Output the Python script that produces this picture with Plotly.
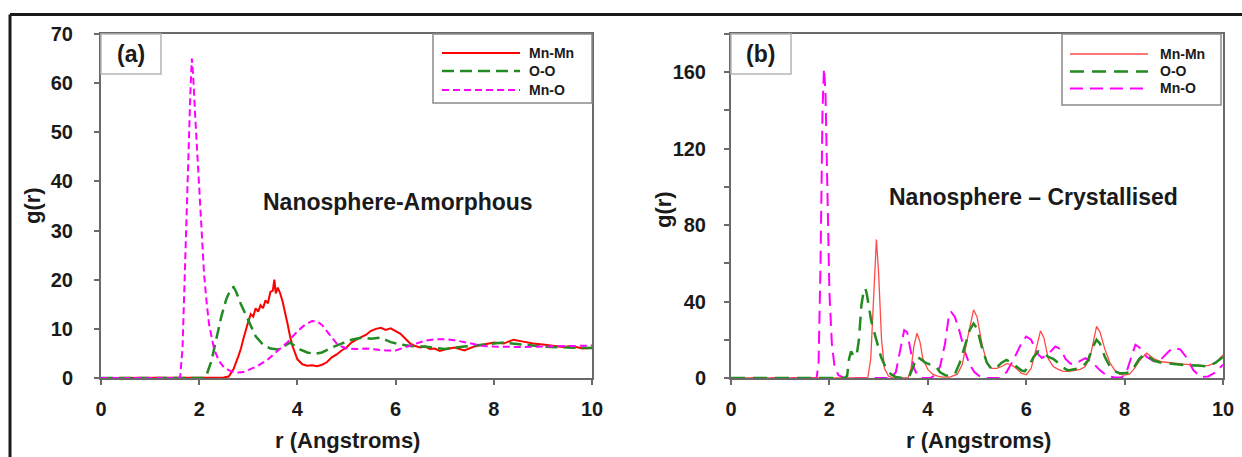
import plotly.graph_objects as go

# ---------------- Panel (a): Nanosphere-Amorphous ----------------
a_mnmn_r = [0, 2.4, 2.5, 2.6, 2.7, 2.8, 2.85, 2.9, 2.95, 3.0, 3.05, 3.1, 3.15, 3.2, 3.25, 3.3, 3.35,
            3.4, 3.45, 3.5, 3.53, 3.56, 3.6, 3.65, 3.7, 3.75, 3.8, 3.85, 3.9, 4.0, 4.1, 4.2, 4.3,
            4.4, 4.5, 4.6, 4.7, 4.8, 4.9, 5.0, 5.1, 5.2, 5.3, 5.4, 5.5, 5.6, 5.7, 5.8, 5.9, 6.0,
            6.1, 6.2, 6.3, 6.4, 6.5, 6.6, 6.7, 6.8, 6.9, 7.0, 7.2, 7.4, 7.6, 7.8, 8.0, 8.2, 8.4,
            8.6, 8.8, 9.0, 9.2, 9.4, 9.6, 9.8, 10.0]
a_mnmn_g = [0, 0, 0.1, 0.3, 1.8, 4.5, 6.0, 8.0, 10.0, 11.5, 13.0, 12.5, 14.2, 13.5, 14.8, 14.2, 15.8,
            15.2, 17.5, 17.8, 20.0, 17.2, 18.4, 17.2, 15.5, 13.5, 11.0, 8.5, 6.5, 3.8, 2.8, 2.5, 2.6,
            2.4, 2.7, 3.2, 4.2, 4.8, 5.6, 6.2, 7.2, 7.8, 8.3, 8.8, 9.6, 10.0, 10.2, 9.8, 10.1, 9.6,
            9.0, 8.0, 7.0, 6.5, 6.2, 6.4, 5.9, 6.0, 5.5, 5.8, 6.2, 5.6, 6.4, 6.8, 7.2, 7.0, 7.8,
            7.4, 7.0, 6.8, 6.5, 6.3, 6.5, 6.0, 6.1]

a_oo_r = [0, 2.05, 2.15, 2.25, 2.35, 2.45, 2.55, 2.65, 2.7, 2.75, 2.85, 2.95, 3.05, 3.15, 3.3, 3.45,
          3.6, 3.75, 3.85, 3.95, 4.05, 4.2, 4.35, 4.5, 4.7, 4.9, 5.1, 5.3, 5.5, 5.7, 5.9, 6.1,
          6.3, 6.6, 7.0, 7.4, 7.8, 8.2, 8.6, 9.0, 9.5, 10.0]
a_oo_g = [0, 0, 0.6, 3.5, 8.0, 12.5, 16.0, 18.3, 18.5, 17.6, 15.0, 12.8, 10.5, 8.5, 6.8, 6.0,
          5.8, 6.6, 7.2, 6.5, 5.8, 5.2, 4.9, 5.2, 6.2, 7.0, 7.8, 8.2, 8.0, 8.2, 7.3, 6.8,
          6.5, 6.4, 5.9, 6.4, 6.8, 7.2, 6.8, 6.4, 6.2, 6.1]

a_mno_r = [0, 1.61, 1.66, 1.70, 1.74, 1.78, 1.82, 1.85, 1.88, 1.92, 1.96, 2.0, 2.05, 2.1, 2.15,
           2.2, 2.3, 2.4, 2.5, 2.6, 2.7, 2.8, 2.9, 3.0, 3.2, 3.4, 3.6, 3.8, 4.0, 4.15, 4.3, 4.4,
           4.5, 4.6, 4.7, 4.8, 4.9, 5.0, 5.2, 5.4, 5.6, 5.8, 6.0, 6.2, 6.4, 6.6, 6.8, 7.0, 7.2,
           7.4, 7.6, 7.8, 8.0, 8.5, 9.0, 9.5, 10.0]
a_mno_g = [0, 0, 6, 20, 34, 45, 58, 65, 61, 53, 46, 38, 28, 21, 15.5,
           11, 6, 3.5, 2.2, 1.6, 1.2, 1.1, 1.2, 1.6, 2.5, 3.8, 5.5, 7.3, 9.5, 10.8, 11.6, 11.5,
           10.8, 9.6, 8.2, 7.0, 6.4, 6.0, 5.9, 6.0, 5.8, 5.6, 5.6, 6.3, 7.0, 7.6, 7.9, 7.9, 7.7,
           7.3, 6.9, 6.5, 6.4, 6.3, 6.4, 6.5, 6.6]

# ---------------- Panel (b): Nanosphere - Crystallised ----------------
b_mnmn_r = [0, 2.78, 2.84, 2.9, 2.955, 3.0, 3.06, 3.12, 3.2, 3.3, 3.6, 3.66, 3.72, 3.78, 3.84, 3.9,
            4.0, 4.1, 4.2, 4.3, 4.45, 4.6, 4.7, 4.8, 4.93, 5.0, 5.1, 5.2, 5.3, 5.4, 5.5, 5.6, 5.7,
            5.8, 5.9, 6.0, 6.1, 6.2, 6.29, 6.36, 6.45, 6.55, 6.65, 6.75, 6.85, 7.0, 7.1, 7.2, 7.3,
            7.43, 7.5, 7.6, 7.7, 7.8, 7.9, 8.0, 8.1, 8.2, 8.3, 8.45, 8.6, 8.75, 8.9, 9.1, 9.3,
            9.5, 9.7, 9.85, 10.0]
b_mnmn_g = [0, 0, 10, 45, 72.5, 55, 20, 5, 1, 0, 0, 5, 17, 23.5, 19, 10,
            4.5, 2, 1, 0.5, 0.5, 2, 7, 20, 35.7, 32, 18, 8, 5, 5, 6, 7.5, 7,
            5, 2.5, 1.7, 5, 15, 24.7, 21, 10, 6, 4.5, 3.5, 3.5, 4, 4.5, 6, 11,
            27, 24, 15, 8, 4, 2, 1.5, 2, 5, 9, 13, 10, 8.5, 8, 7.5, 7,
            6.5, 6.5, 8, 12]

b_oo_r = [0, 2.3, 2.36, 2.4, 2.44, 2.48, 2.52, 2.56, 2.6, 2.65, 2.7, 2.73, 2.76, 2.8, 2.85, 2.9,
          2.95, 3.0, 3.05, 3.15, 3.25, 3.35, 3.5, 3.62, 3.7, 3.78, 3.85, 3.95, 4.05, 4.15, 4.25,
          4.35, 4.45, 4.55, 4.65, 4.75, 4.85, 4.93, 5.0, 5.1, 5.2, 5.3, 5.4, 5.5, 5.6, 5.7, 5.8,
          5.9, 5.97, 6.05, 6.15, 6.25, 6.35, 6.45, 6.55, 6.65, 6.75, 6.85, 6.95, 7.05, 7.15,
          7.25, 7.35, 7.43, 7.5, 7.6, 7.7, 7.8, 7.9, 8.0, 8.1, 8.2, 8.3, 8.4, 8.5, 8.6, 8.75,
          8.9, 9.1, 9.3, 9.5, 9.7, 9.85, 10.0]
b_oo_g = [0, 0, 1, 10, 14, 12, 14, 13, 20, 38, 46, 47, 44, 38, 30, 25,
          20, 15, 11, 5, 2, 0.5, 0, 0.5, 6, 11, 10, 8, 7, 6.5, 3,
          1.5, 1, 2, 8, 17, 25, 28.5, 26, 16, 8, 4.5, 5.5, 8, 9.5, 8, 6,
          4, 3.5, 6, 11, 14, 13, 11, 10, 8, 5.5, 4, 4.5, 5, 6,
          9, 16, 20, 18, 11, 6, 3.5, 2.5, 2.5, 3, 6, 10, 12.5, 11, 9, 8,
          7.5, 7, 6.5, 6.5, 6, 8, 11]

b_mno_r = [0, 1.74, 1.78, 1.82, 1.86, 1.89, 1.92, 1.96, 2.0, 2.05, 2.1, 2.18, 2.3, 3.25, 3.35,
           3.45, 3.52, 3.58, 3.65, 3.72, 3.8, 3.9, 4.05, 4.15, 4.25, 4.35, 4.42, 4.47, 4.55, 4.65,
           4.75, 4.85, 4.95, 5.05, 5.2, 5.45, 5.6, 5.75, 5.9, 6.0, 6.1, 6.22, 6.32, 6.45, 6.59,
           6.7, 6.8, 6.9, 7.0, 7.1, 7.2, 7.35, 7.5, 7.65, 7.8, 7.95, 8.05, 8.15, 8.22, 8.3, 8.45,
           8.6, 8.75, 8.9, 9.0, 9.13, 9.25, 9.4, 9.55, 9.7, 9.85, 10.0]
b_mno_g = [0, 0, 8, 60, 140, 162, 150, 95, 45, 18, 7, 1.5, 0, 0, 3,
           16, 25, 24, 14, 5, 1, 0, 0, 1.5, 6, 18, 31, 34.8, 32, 24,
           14, 7, 3, 1, 0, 0, 3, 10, 18, 21.7, 20, 13, 10.5, 12.5, 16.5,
           15, 10, 7.5, 7.5, 9, 10.4, 8, 4, 1, 0.3, 0.3, 4, 12, 17.4, 16, 11,
           8.7, 10, 14, 15.7, 15, 11, 4, 0.5, 0.8, 3, 7]

x_ticks = [0, 2, 4, 6, 8, 10]
a_y_ticks = [0, 10, 20, 30, 40, 50, 60, 70]
b_y_ticks = [0, 20, 40, 60, 80, 100, 120, 140, 160, 180]
b_y_ticktext = ["0", "", "40", "", "80", "", "120", "", "160", ""]

W, H = 1242, 457


def px(x):
    return x / W


def py(y):
    return 1 - y / H


RED = "#ff0000"
RED_B = "#ff4a4a"
GREEN = "#228b22"
MAG = "#ff00ff"
TXT = "#1a1a1a"
AX = "#6a6a6a"
FONT = "Liberation Sans, Arial, sans-serif"

fig = go.Figure()

# panel (a)
fig.add_trace(go.Scatter(x=a_mnmn_r, y=a_mnmn_g, mode="lines", name="Mn-Mn",
                         line=dict(color=RED, width=2), xaxis="x", yaxis="y"))
fig.add_trace(go.Scatter(x=a_oo_r, y=a_oo_g, mode="lines", name="O-O",
                         line=dict(color=GREEN, width=2.5, dash="12px,6px"), xaxis="x", yaxis="y"))
fig.add_trace(go.Scatter(x=a_mno_r, y=a_mno_g, mode="lines", name="Mn-O",
                         line=dict(color=MAG, width=2, dash="7px,4px"), xaxis="x", yaxis="y"))
# panel (b)
fig.add_trace(go.Scatter(x=b_mno_r, y=b_mno_g, mode="lines", name="Mn-O",
                         line=dict(color=MAG, width=2, dash="13px,7px"), xaxis="x2", yaxis="y2"))
fig.add_trace(go.Scatter(x=b_mnmn_r, y=b_mnmn_g, mode="lines", name="Mn-Mn",
                         line=dict(color=RED_B, width=1.3), xaxis="x2", yaxis="y2"))
fig.add_trace(go.Scatter(x=b_oo_r, y=b_oo_g, mode="lines", name="O-O",
                         line=dict(color=GREEN, width=2.5, dash="14px,8px"), xaxis="x2", yaxis="y2"))

tickfont = dict(family=FONT, size=20, color=TXT, weight="bold")
common_x = dict(range=[0, 10], tickvals=x_ticks, ticks="outside", ticklen=5, tickwidth=1.5,
                tickcolor=AX, showline=True, linecolor=AX, linewidth=2, mirror=True,
                showgrid=False, zeroline=False, tickfont=tickfont, automargin=False,
                ticklabelstandoff=7)
common_y = dict(ticks="outside", ticklen=5, tickwidth=1.5, tickcolor=AX, showline=True,
                linecolor=AX, linewidth=2, mirror=True, showgrid=False, zeroline=False,
                tickfont=tickfont, automargin=False)

ydom = [py(378), py(34)]
fig.update_layout(
    width=W, height=H, margin=dict(l=0, r=0, t=0, b=0),
    paper_bgcolor="white", plot_bgcolor="white", showlegend=False,
    font=dict(family=FONT, color=TXT),
    xaxis=dict(domain=[px(101), px(592)], anchor="y", **common_x),
    yaxis=dict(domain=ydom, anchor="x", range=[0, 70], tickvals=a_y_ticks,
               ticklabelstandoff=17, **common_y),
    xaxis2=dict(domain=[px(731), px(1223)], anchor="y2", **common_x),
    yaxis2=dict(domain=ydom, anchor="x2", range=[0, 180], tickvals=b_y_ticks,
                ticktext=b_y_ticktext, ticklabelstandoff=14, **common_y),
)

shapes = []
annotations = []

# outer frame (top and left edges visible)
shapes.append(dict(type="line", xref="paper", yref="paper", x0=px(10), x1=px(1250),
                   y0=py(14.5), y1=py(14.5), line=dict(color="#1a1a1a", width=3)))
shapes.append(dict(type="line", xref="paper", yref="paper", x0=px(10), x1=px(10),
                   y0=py(14.5), y1=py(470), line=dict(color="#1a1a1a", width=3)))

# panel label boxes
for (x0, x1, lab) in [(101, 161, "(a)"), (731, 791, "(b)")]:
    shapes.append(dict(type="rect", xref="paper", yref="paper", x0=px(x0), x1=px(x1),
                       y0=py(74), y1=py(34), line=dict(color="#b5b5b5", width=1.5),
                       fillcolor="white"))
    annotations.append(dict(xref="paper", yref="paper", x=px((x0 + x1) / 2), y=py(54),
                            text=lab, showarrow=False, xanchor="center", yanchor="middle",
                            font=dict(family=FONT, size=23, color=TXT, weight="bold")))

# legend boxes (drawn manually to match sample length)
legends = [
    dict(box=(433, 592, 34, 103), lx=(442, 520), tx=527, ys=(53, 71, 90),
         styles=[(RED, 2, "solid"), (GREEN, 2.5, "12px,6px"), (MAG, 2, "7px,4px")]),
    dict(box=(1062, 1221, 34, 105), lx=(1070, 1148), tx=1158, ys=(54, 71.5, 88.5),
         styles=[(RED_B, 1.3, "solid"), (GREEN, 2.5, "14px,8px"), (MAG, 2, "13px,7px")]),
]
names = ["Mn-Mn", "O-O", "Mn-O"]
for lg in legends:
    bx0, bx1, by0, by1 = lg["box"]
    shapes.append(dict(type="rect", xref="paper", yref="paper", x0=px(bx0), x1=px(bx1),
                       y0=py(by1), y1=py(by0), line=dict(color="#8a8a8a", width=1.5),
                       fillcolor="white"))
    for yy, (col, wd, ds), nm in zip(lg["ys"], lg["styles"], names):
        shapes.append(dict(type="line", xref="paper", yref="paper", x0=px(lg["lx"][0]),
                           x1=px(lg["lx"][1]), y0=py(yy), y1=py(yy),
                           line=dict(color=col, width=wd, dash=ds)))
        annotations.append(dict(xref="paper", yref="paper", x=px(lg["tx"]), y=py(yy),
                                text=nm, showarrow=False, xanchor="left", yanchor="middle",
                                font=dict(family=FONT, size=14, color=TXT, weight="bold")))

# axis titles
title_font = dict(family=FONT, size=22, color=TXT, weight="bold")
for cx in (347, 978):
    annotations.append(dict(xref="paper", yref="paper", x=px(cx), y=py(440),
                            text="r (Angstroms)", showarrow=False, xanchor="center",
                            yanchor="middle", font=title_font))
for cx, cy in ((32, 206), (664, 210)):
    annotations.append(dict(xref="paper", yref="paper", x=px(cx), y=py(cy), text="g(r)",
                            showarrow=False, textangle=-90, xanchor="center",
                            yanchor="middle", font=title_font))

# in-plot captions
annotations.append(dict(xref="paper", yref="paper", x=px(398), y=py(202),
                        text="Nanosphere-Amorphous", showarrow=False, xanchor="center",
                        yanchor="middle", font=dict(family=FONT, size=23, color=TXT, weight="bold")))
annotations.append(dict(xref="paper", yref="paper", x=px(1033), y=py(197),
                        text="Nanosphere \u2013 Crystallised", showarrow=False, xanchor="center",
                        yanchor="middle", font=dict(family=FONT, size=23, color=TXT, weight="bold")))

fig.update_layout(shapes=shapes, annotations=annotations)
fig.write_html("out.html")
